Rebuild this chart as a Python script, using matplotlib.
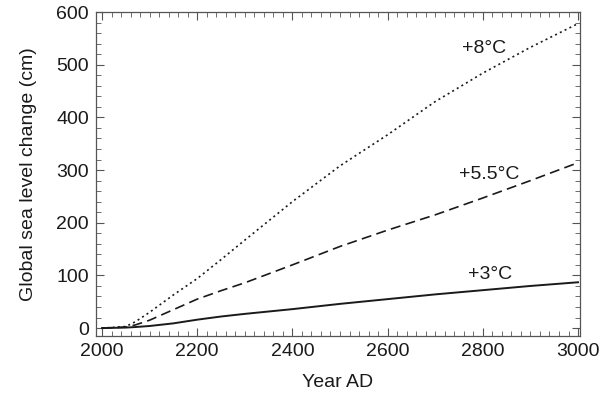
import numpy as np
import matplotlib.pyplot as plt
from matplotlib.ticker import MultipleLocator

plt.rcParams['font.family'] = ['Liberation Sans', 'DejaVu Sans']

# values
years = [2000, 2050, 2070, 2100, 2150, 2200, 2250, 2300, 2400, 2500,
         2600, 2700, 2800, 2900, 3000]
rise_8 = [0, 3, 12, 30, 63, 94, 130, 167, 240, 308, 367, 430, 484, 533, 578]
rise_55 = [0, 2, 6, 15, 35, 55, 71, 86, 120, 155, 186, 215, 247, 280, 314]
rise_3 = [0, 1, 2, 4, 9, 16, 22, 27, 36, 46, 55, 64, 72, 80, 87]

labels = ['+8°C', '+5.5°C', '+3°C']
label_pos = [(2802, 531), (2813, 291), (2816, 101)]

fig, ax = plt.subplots(figsize=(6, 3.94), dpi=100)
fig.subplots_adjust(left=0.16, right=0.9667, top=0.9695, bottom=0.1472)

ax.plot(years, rise_8, color='#1a1a1a', linestyle=(0, (1.2, 2.0)), lw=1.2)
ax.plot(years, rise_55, color='#1a1a1a', linestyle=(0, (6, 3.2)), lw=1.2)
ax.plot(years, rise_3, color='#1a1a1a', linestyle='-', lw=1.4)

for lab, (x, y) in zip(labels, label_pos):
    ax.text(x, y, lab, fontsize=14, ha='center', va='center', color='#1a1a1a')

ax.set_xlim(1987.4, 3004.2)
ax.set_ylim(-15, 600)
ax.xaxis.set_major_locator(MultipleLocator(200))
ax.xaxis.set_minor_locator(MultipleLocator(20))
ax.yaxis.set_major_locator(MultipleLocator(100))
ax.yaxis.set_minor_locator(MultipleLocator(20))
ax.tick_params(which='both', direction='in', top=True, right=True,
               labelsize=14, color='#555555', labelcolor='#1a1a1a')
ax.tick_params(which='major', length=6, width=0.8, pad=5)
ax.tick_params(which='minor', length=3.5, width=0.6)
for s in ax.spines.values():
    s.set_color('#555555')
    s.set_linewidth(0.9)

ax.set_xlabel('Year AD', fontsize=14, color='#1a1a1a', labelpad=10)
ax.set_ylabel('Global sea level change (cm)', fontsize=14, color='#1a1a1a',
              labelpad=14)

fig.savefig('out.png', dpi=100)
